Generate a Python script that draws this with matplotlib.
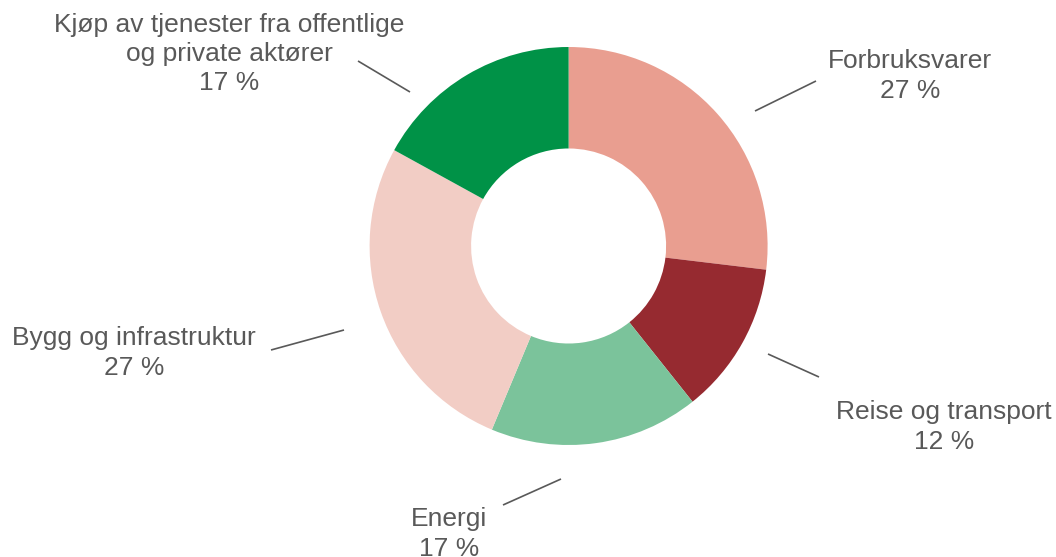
import matplotlib
matplotlib.use("Agg")
import matplotlib.pyplot as plt

# ── data ──────────────────────────────────────────────────────────────────────
categories = [
    "Forbruksvarer",
    "Reise og transport",
    "Energi",
    "Bygg og infrastruktur",
    "Kjøp av tjenester fra offentlige\nog private aktører",
]
shares = [26.9, 12.4, 17.0, 26.7, 17.0]
colors = ["#E99E90", "#962A30", "#7BC39B", "#F2CDC5", "#009247"]

# ── layout (pixel coords, y measured from top) ────────────────────────────────
W, H = 1056, 557
center = (568.6, H - 246)
radius = 199
label_pos = [(910, 76), (944, 427), (449, 534), (134, 353), (229, 54)]
leaders = [
    ((755, 111), (816, 81)),
    ((768, 354), (819, 377)),
    ((503, 505), (561, 479)),
    ((271, 350), (344, 330)),
    ((358, 61), (410, 92)),
]
text_color = "#595959"

fig = plt.figure(figsize=(W / 100, H / 100), dpi=100)
ax = fig.add_axes([0, 0, 1, 1])

ax.pie(shares, colors=colors, startangle=90, counterclock=False,
       center=center, radius=radius,
       wedgeprops=dict(width=radius * 0.51, linewidth=0))
ax.set_xlim(0, W)
ax.set_ylim(0, H)
ax.axis("off")

for cat, val, (x, y) in zip(categories, shares, label_pos):
    ax.text(x, H - y, f"{cat}\n{round(val):d} %", ha="center", va="center",
            fontsize=19, color=text_color, family="Liberation Sans",
            linespacing=1.28)

for (x0, y0), (x1, y1) in leaders:
    ax.plot([x0, x1], [H - y0, H - y1], color=text_color, linewidth=1.2,
            solid_capstyle="butt")

fig.savefig("out.png", dpi=100)
